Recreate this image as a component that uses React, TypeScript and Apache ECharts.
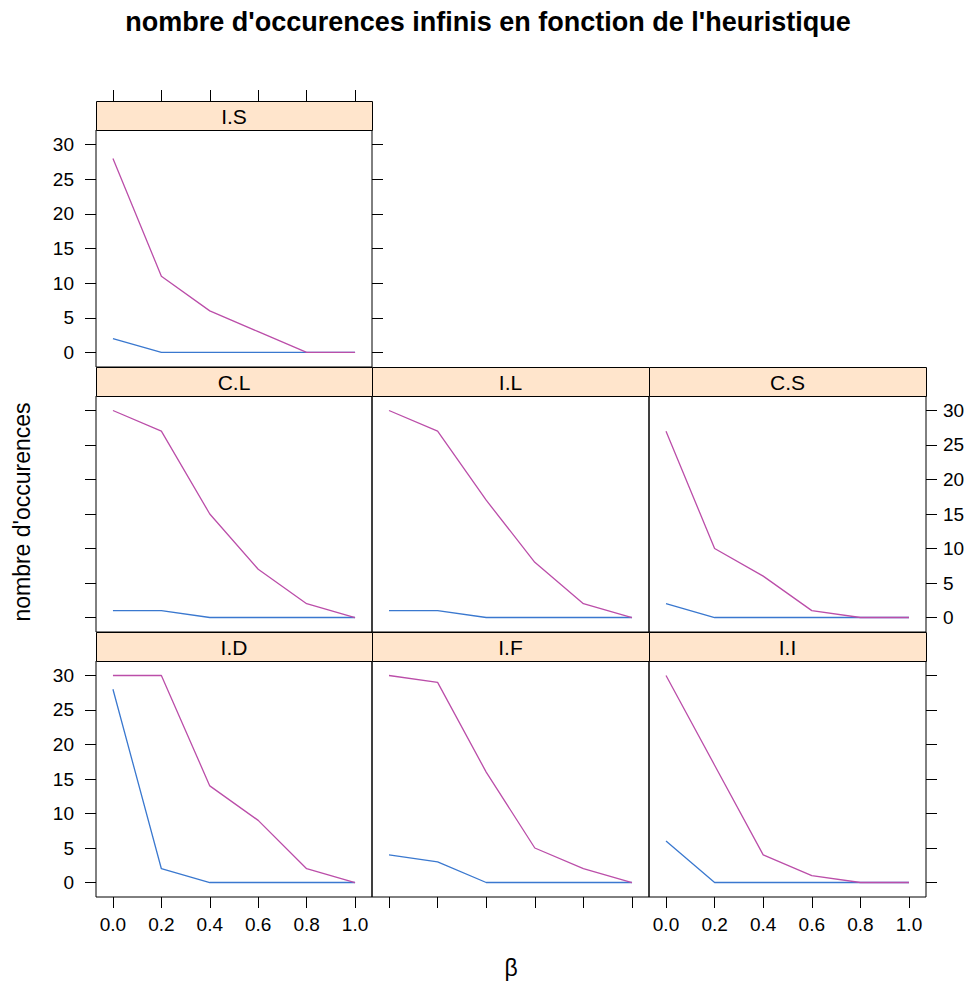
import React, { useEffect, useRef } from "react";
import * as echarts from "echarts";

// ---- data ----
const betas = [0, 0.2, 0.4, 0.6, 0.8, 1.0];
const xTicks = [0, 0.2, 0.4, 0.6, 0.8, 1.0];
const yTicks = [0, 5, 10, 15, 20, 25, 30];
const panelNames = ["I.S", "C.L", "I.L", "C.S", "I.D", "I.F", "I.I"];

const bleuIS = [2, 0, 0, 0, 0, 0];
const magentaIS = [28, 11, 6, 3, 0, 0];
const bleuCL = [1, 1, 0, 0, 0, 0];
const magentaCL = [30, 27, 15, 7, 2, 0];
const bleuIL = [1, 1, 0, 0, 0, 0];
const magentaIL = [30, 27, 17, 8, 2, 0];
const bleuCS = [2, 0, 0, 0, 0, 0];
const magentaCS = [27, 10, 6, 1, 0, 0];
const bleuID = [28, 2, 0, 0, 0, 0];
const magentaID = [30, 30, 14, 9, 2, 0];
const bleuIF = [4, 3, 0, 0, 0, 0];
const magentaIF = [30, 29, 16, 5, 2, 0];
const bleuII = [6, 0, 0, 0, 0, 0];
const magentaII = [30, 17, 4, 1, 0, 0];

const bleuSeries = [bleuIS, bleuCL, bleuIL, bleuCS, bleuID, bleuIF, bleuII];
const magentaSeries = [magentaIS, magentaCL, magentaIL, magentaCS, magentaID, magentaIF, magentaII];

const titleText = "nombre d'occurences infinis en fonction de l'heuristique";
const yLabelText = "nombre d'occurences";
const xLabelText = "β";

// ---- layout ----
const FONT = "'Liberation Sans', Arial, Helvetica, sans-serif";
const colLeft = [96, 372, 649];
const colWidth = [276, 277, 277];
const rowTop = [130, 396, 661];
const rowHeight = [237, 236, 236];
const STRIP = 29;
const BLUE = "#3a78cf";
const MAGENTA = "#bb4ea9";

type Mode = "label" | "tick" | null;
const layout: { row: number; col: number; left: Mode; right: Mode; bottom: Mode; top: Mode }[] = [
  { row: 0, col: 0, left: "label", right: "tick", bottom: null, top: "tick" },
  { row: 1, col: 0, left: "tick", right: null, bottom: null, top: null },
  { row: 1, col: 1, left: null, right: null, bottom: null, top: null },
  { row: 1, col: 2, left: null, right: "label", bottom: null, top: null },
  { row: 2, col: 0, left: "label", right: null, bottom: "label", top: null },
  { row: 2, col: 1, left: null, right: null, bottom: "tick", top: null },
  { row: 2, col: 2, left: null, right: "tick", bottom: "label", top: null },
];

function buildOption() {
  const grids: any[] = [];
  const xAxes: any[] = [];
  const yAxes: any[] = [];
  const series: any[] = [];
  const graphics: any[] = [];

  const mkX = (gi: number, pos: string, mode: Mode, offset = 0) => ({
    type: "value",
    gridIndex: gi,
    position: pos,
    offset,
    min: -0.07,
    max: 1.07,
    show: mode !== null,
    axisLine: { show: false, onZero: false },
    splitLine: { show: false },
    axisTick: {
      show: true,
      inside: false,
      length: 11,
      customValues: xTicks,
      lineStyle: { color: "#000", width: 1 },
    },
    axisLabel: {
      show: mode === "label",
      customValues: xTicks,
      formatter: (v: number) => v.toFixed(1),
      margin: 18,
      color: "#000",
      fontSize: 19,
      fontFamily: FONT,
    },
  });
  const mkY = (gi: number, pos: string, mode: Mode) => ({
    type: "value",
    gridIndex: gi,
    position: pos,
    min: -2.1,
    max: 32.1,
    show: mode !== null,
    axisLine: { show: false, onZero: false },
    splitLine: { show: false },
    axisTick: {
      show: true,
      inside: false,
      length: 11,
      customValues: yTicks,
      lineStyle: { color: "#000", width: 1 },
    },
    axisLabel: {
      show: mode === "label",
      customValues: yTicks,
      margin: pos === "left" ? 22 : 17,
      color: "#000",
      fontSize: 19,
      fontFamily: FONT,
    },
  });

  layout.forEach((p, i) => {
    const left = colLeft[p.col];
    const top = rowTop[p.row];
    const w = colWidth[p.col];
    const h = rowHeight[p.row];
    grids.push({
      left,
      top,
      width: w,
      height: h,
      show: true,
      borderColor: "#000",
      borderWidth: 1,
      backgroundColor: "transparent",
    });
    const xi = xAxes.length;
    xAxes.push(mkX(i, "bottom", p.bottom));
    if (p.top) xAxes.push(mkX(i, "top", p.top, STRIP));
    const yi = yAxes.length;
    yAxes.push(mkY(i, "left", p.left));
    if (p.right) yAxes.push(mkY(i, "right", p.right));

    series.push({
      name: panelNames[i] + " (bleu)",
      type: "line",
      xAxisIndex: xi,
      yAxisIndex: yi,
      symbol: "none",
      lineStyle: { color: BLUE, width: 1.3 },
      itemStyle: { color: BLUE },
      data: betas.map((b, j) => [b, bleuSeries[i][j]]),
      z: 2,
    });
    series.push({
      name: panelNames[i] + " (magenta)",
      type: "line",
      xAxisIndex: xi,
      yAxisIndex: yi,
      symbol: "none",
      lineStyle: { color: MAGENTA, width: 1.3 },
      itemStyle: { color: MAGENTA },
      data: betas.map((b, j) => [b, magentaSeries[i][j]]),
      z: 3,
    });

    graphics.push({
      type: "rect",
      shape: { x: left + 0.5, y: top - STRIP + 0.5, width: w, height: STRIP },
      style: { fill: "#ffe5cc", stroke: "#000", lineWidth: 1 },
      z: 10,
    });
    graphics.push({
      type: "text",
      x: left + w / 2,
      y: top - STRIP / 2 + 1,
      style: {
        text: panelNames[i],
        align: "center",
        verticalAlign: "middle",
        fontSize: 21,
        fontFamily: FONT,
        fill: "#000",
      },
      z: 11,
    });
  });

  graphics.push({
    type: "text",
    x: 488,
    y: 22,
    style: {
      text: titleText,
      align: "center",
      verticalAlign: "middle",
      fontSize: 27,
      fontWeight: "bold",
      fontFamily: FONT,
      fill: "#000",
    },
  });
  graphics.push({
    type: "text",
    x: 22,
    y: 512,
    rotation: Math.PI / 2,
    style: {
      text: yLabelText,
      align: "center",
      verticalAlign: "middle",
      fontSize: 23,
      fontFamily: FONT,
      fill: "#000",
    },
  });
  graphics.push({
    type: "text",
    x: 511,
    y: 968,
    style: {
      text: xLabelText,
      align: "center",
      verticalAlign: "middle",
      fontSize: 23,
      fontFamily: FONT,
      fill: "#000",
    },
  });

  return {
    animation: false,
    backgroundColor: "#fff",
    grid: grids,
    xAxis: xAxes,
    yAxis: yAxes,
    series,
    graphic: graphics,
  };
}

export default function App() {
  const ref = useRef<HTMLDivElement>(null);
  useEffect(() => {
    if (!ref.current) return;
    const chart = echarts.init(ref.current, null, { renderer: "svg" });
    chart.setOption(buildOption() as any);
    return () => chart.dispose();
  }, []);
  return (
    <div
      ref={ref}
      style={{ position: "absolute", left: 0, top: 0, width: 978, height: 985 }}
    />
  );
}
